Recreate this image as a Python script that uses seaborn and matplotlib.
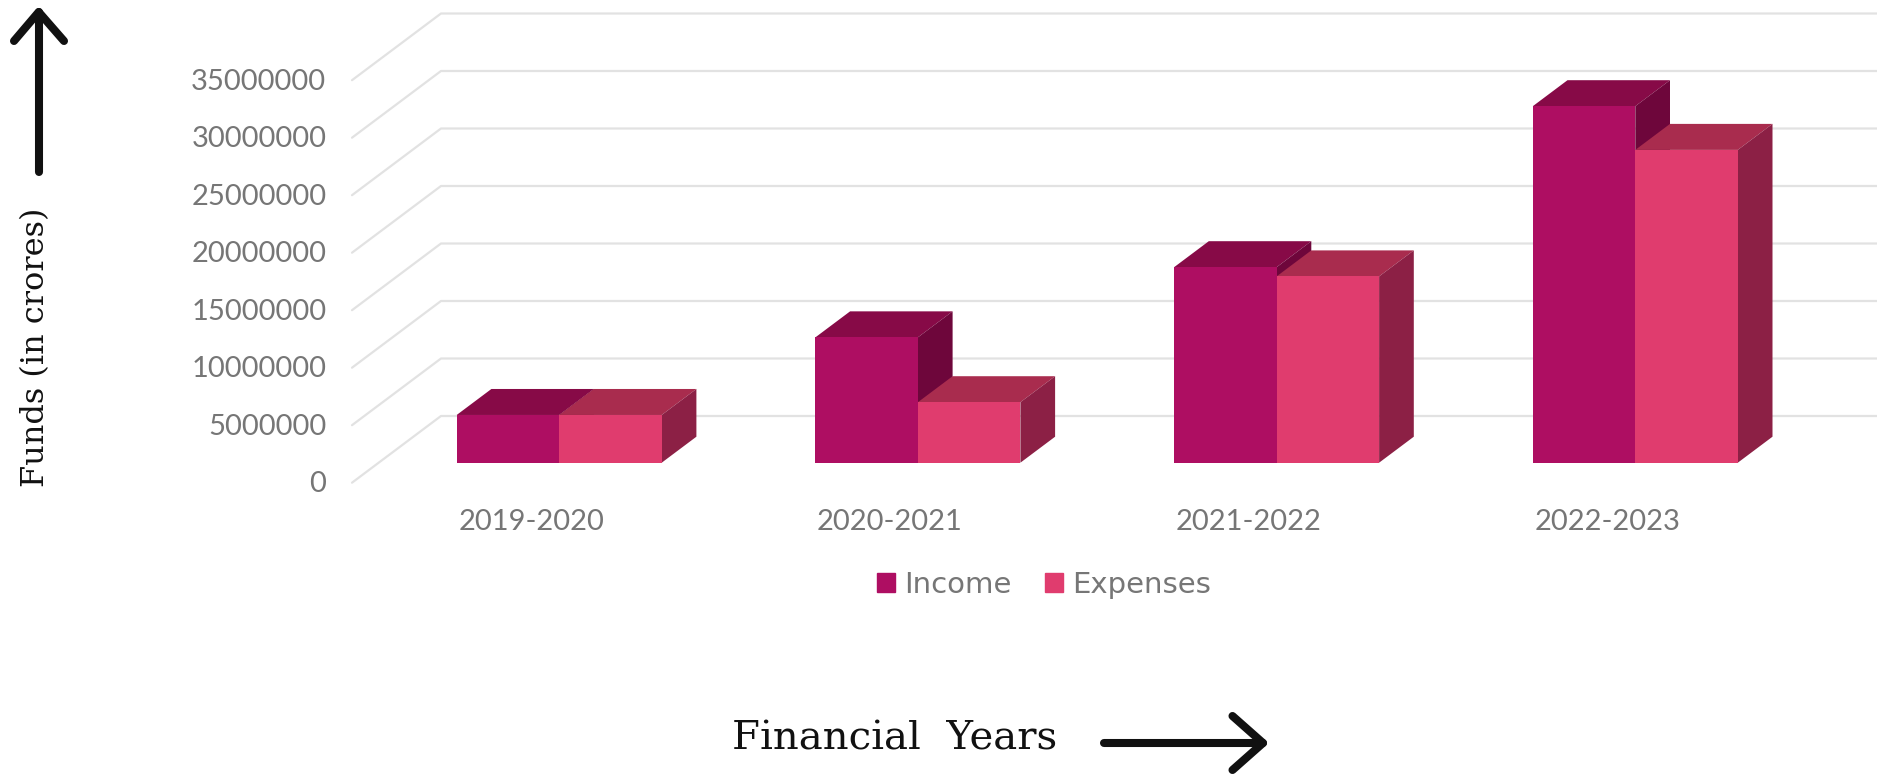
import pandas as pd
import seaborn as sns
import matplotlib.pyplot as plt
from matplotlib.lines import Line2D
from matplotlib.patches import Patch, Polygon
from matplotlib.transforms import ScaledTranslation

years = ['2019-2020', '2020-2021', '2021-2022', '2022-2023']
income = [4150000, 10900000, 17000000, 31000000]
expenses = [4150000, 5260000, 16200000, 27200000]
y_ticks = [0, 5000000, 10000000, 15000000, 20000000, 25000000, 30000000, 35000000]

W, H = 1877, 774
PX_PER_CAT = 358.7
PX_PER_UNIT = 57.5 / 5000000

# face colours: front, top, side
income_colors = ['#AE0E62', '#870A47', '#6E063B']
expense_colors = ['#E03C6E', '#A92C4E', '#8C2045']
grid_color = '#E2E2E2'
text_color = '#767676'
ink = '#111111'

sns.set_theme(style='white')
fig = plt.figure(figsize=(W / 100, H / 100), dpi=100, facecolor='white')

def fx(px):
    return px / W

def fy(px):
    return 1 - px / H

# axes runs from the left end of the wall lines to the image edge
ax_left, ax_bottom = 352, 482.7
ax = fig.add_axes([fx(ax_left), fy(ax_bottom), 1 - fx(ax_left), ax_bottom / H])
ax.patch.set_alpha(0)

df = pd.DataFrame({
    'year': years * 2,
    'series': ['Income'] * 4 + ['Expenses'] * 4,
    'value': income + expenses,
})
sns.barplot(data=df, x='year', y='value', hue='series', ax=ax, width=205 / PX_PER_CAT, gap=0,
            palette=[income_colors[0], expense_colors[0]], legend=False, saturation=1)

lift = 20 / PX_PER_UNIT
ax.set_xlim((ax_left - 559.2) / PX_PER_CAT, (W - 559.2) / PX_PER_CAT)
ax.set_ylim(-lift, 462.7 / PX_PER_UNIT)
x0, x1 = ax.get_xlim()

# wall and back grid lines
wall_dx, wall_dy = 89 / PX_PER_CAT, 66.7 / PX_PER_UNIT
for v in y_ticks:
    base = v - lift
    ax.plot([x0, x0 + wall_dx, x1], [base, base + wall_dy, base + wall_dy],
            color=grid_color, lw=1.6, zorder=1, clip_on=False, solid_joinstyle='round')

# fake 3d faces built from the bar rectangles
bar_dx, bar_dy = 34.7 / PX_PER_CAT, 26 / PX_PER_UNIT
for n, (container, colors) in enumerate(zip(ax.containers, [income_colors, expense_colors])):
    z = 3 + 2 * n
    for bar in container:
        bar.set_zorder(z)
        bar.set_linewidth(0)
        l, r = bar.get_x(), bar.get_x() + bar.get_width()
        top = bar.get_height()
        ax.add_patch(Polygon([(l, top), (r, top), (r + bar_dx, top + bar_dy), (l + bar_dx, top + bar_dy)],
                             facecolor=colors[1], edgecolor='none', zorder=z - 1))
        ax.add_patch(Polygon([(r, 0), (r, top), (r + bar_dx, top + bar_dy), (r + bar_dx, bar_dy)],
                             facecolor=colors[2], edgecolor='none', zorder=z - 1))

ax.set_xlabel('')
ax.set_ylabel('')
ax.set_yticks(y_ticks)
ax.set_yticklabels([str(v) for v in y_ticks])
ax.tick_params(axis='y', length=0, pad=18.5, labelsize=21, labelcolor=text_color)
ax.tick_params(axis='x', length=0, pad=19, labelsize=21, labelcolor=text_color)
sns.despine(ax=ax, left=True, bottom=True, top=True, right=True)

# y labels belong to the front edge of the wall, 20px under the bar floor
down = ScaledTranslation(0, -19 / 100, fig.dpi_scale_trans)
for label in ax.get_yticklabels():
    label.set_transform(label.get_transform() + down)
# x labels sit left of the bar centres in the original
left = ScaledTranslation(-28 / 100, 0, fig.dpi_scale_trans)
for label in ax.get_xticklabels():
    label.set_transform(label.get_transform() + left)
for label in ax.get_yticklabels() + ax.get_xticklabels():
    label.set_family('Lato')

fig.legend(handles=[Patch(color=income_colors[0], label='Income'),
                    Patch(color=expense_colors[0], label='Expenses')],
           loc='center', bbox_to_anchor=(fx(1044), fy(585)), bbox_transform=fig.transFigure,
           ncol=2, frameon=False, handlelength=0.62, handleheight=0.62,
           handletextpad=0.3, columnspacing=1.15, labelcolor=text_color,
           prop={'family': 'DejaVu Sans', 'size': 21})

fig.text(fx(895), fy(739), 'Financial  Years', family='DejaVu Serif', fontsize=29, color=ink,
         ha='center', va='center')
fig.text(fx(36), fy(347), 'Funds (in crores)', family='DejaVu Serif', fontsize=23, color=ink,
         rotation=90, ha='center', va='center')

# hand drawn axis arrows
def stroke(xs, ys):
    fig.add_artist(Line2D([fx(x) for x in xs], [fy(y) for y in ys], color=ink, lw=5.8,
                          solid_capstyle='round', solid_joinstyle='round'))

stroke([38.7, 38.7], [172, 12])
stroke([14, 38.7, 64], [41, 12, 41])
stroke([1104, 1263], [743, 743])
stroke([1232.5, 1263, 1232.5], [716, 743, 770])

fig.savefig('out.png', dpi=100)
